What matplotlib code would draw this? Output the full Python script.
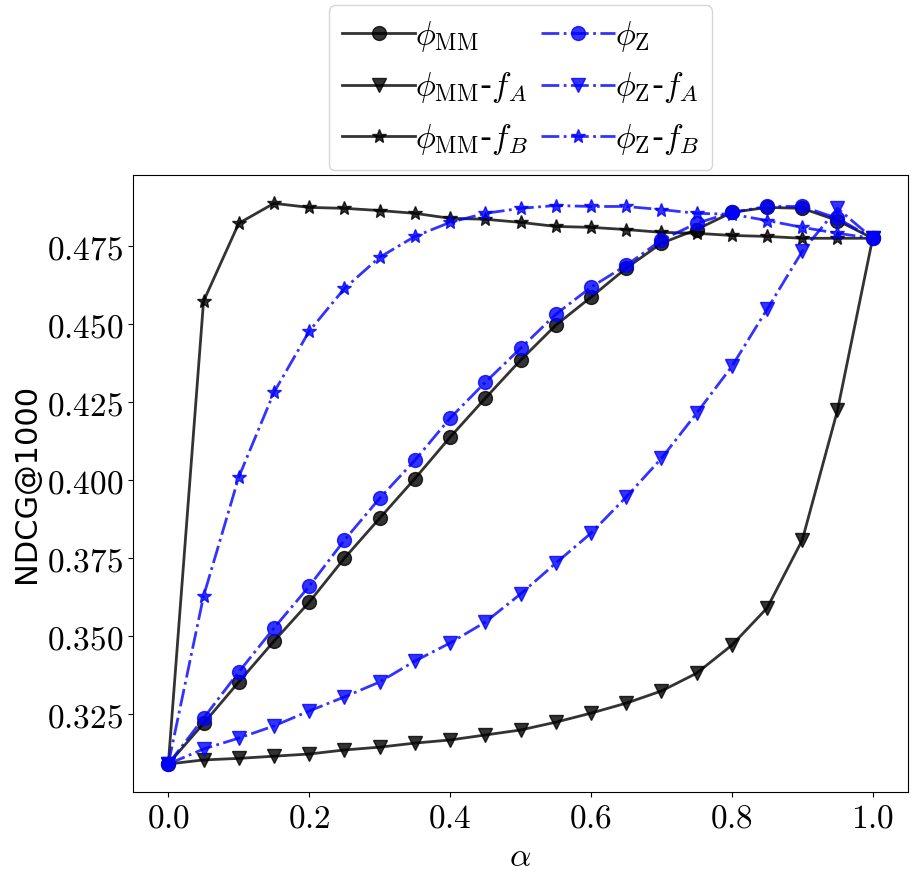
import matplotlib
matplotlib.use("Agg")
import matplotlib.pyplot as plt
from matplotlib.ticker import FuncFormatter

plt.rcParams['mathtext.fontset'] = 'cm'

alpha = [0.0, 0.05, 0.10, 0.15, 0.20, 0.25, 0.30, 0.35, 0.40, 0.45, 0.50,
         0.55, 0.60, 0.65, 0.70, 0.75, 0.80, 0.85, 0.90, 0.95, 1.0]

# NDCG@1000 per alpha
phi_mm = [0.309, 0.322, 0.3353, 0.3484, 0.3609, 0.375, 0.3878, 0.4005, 0.4138, 0.4263, 0.4385,
          0.4497, 0.4587, 0.468, 0.476, 0.4804, 0.4859, 0.4875, 0.4872, 0.4833, 0.4776]
phi_mm_fa = [0.309, 0.3103, 0.3108, 0.3115, 0.3122, 0.3135, 0.3144, 0.3157, 0.3167, 0.3183, 0.3199,
             0.3224, 0.3253, 0.3285, 0.3324, 0.3381, 0.3471, 0.359, 0.3808, 0.4224, 0.4776]
phi_mm_fb = [0.309, 0.4574, 0.4824, 0.4888, 0.4875, 0.4872, 0.4865, 0.4856, 0.484, 0.4837, 0.4827,
             0.4814, 0.4811, 0.4804, 0.4795, 0.4792, 0.4785, 0.4782, 0.4776, 0.4776, 0.4776]
phi_z = [0.309, 0.3237, 0.3385, 0.3526, 0.366, 0.3808, 0.3942, 0.4064, 0.4199, 0.4314, 0.4423,
         0.4532, 0.4619, 0.4689, 0.477, 0.4824, 0.4859, 0.4878, 0.4878, 0.484, 0.4776]
phi_z_fa = [0.309, 0.3138, 0.3173, 0.3212, 0.326, 0.3305, 0.3353, 0.342, 0.3478, 0.3545, 0.3635,
            0.3734, 0.383, 0.3946, 0.407, 0.4215, 0.4365, 0.4548, 0.4734, 0.4872, 0.4776]
phi_z_fb = [0.309, 0.3628, 0.401, 0.4282, 0.4478, 0.4615, 0.4715, 0.4782, 0.4827, 0.4856, 0.4872,
            0.4881, 0.4878, 0.4878, 0.4868, 0.4856, 0.4853, 0.4833, 0.4811, 0.4792, 0.4776]

fig = plt.figure(figsize=(9.18, 8.81), dpi=100)
ax = fig.add_axes([0.145, 0.101, 0.844, 0.7])

kw = dict(linewidth=2, markersize=10, alpha=0.8)
ax.plot(alpha, phi_mm, 'k-', marker='o', label=r'$\phi_{\mathrm{MM}}$', **kw)
ax.plot(alpha, phi_mm_fa, 'k-', marker='v', label=r'$\phi_{\mathrm{MM}}$-$f_A$', **kw)
ax.plot(alpha, phi_mm_fb, 'k-', marker='*', label=r'$\phi_{\mathrm{MM}}$-$f_B$', **kw)
ax.plot(alpha, phi_z, 'b-.', marker='o', label=r'$\phi_{\mathrm{Z}}$', **kw)
ax.plot(alpha, phi_z_fa, 'b-.', marker='v', label=r'$\phi_{\mathrm{Z}}$-$f_A$', **kw)
ax.plot(alpha, phi_z_fb, 'b-.', marker='*', label=r'$\phi_{\mathrm{Z}}$-$f_B$', **kw)

ax.set_xticks([0.0, 0.2, 0.4, 0.6, 0.8, 1.0])
ax.set_yticks([0.325, 0.350, 0.375, 0.400, 0.425, 0.450, 0.475])
ax.xaxis.set_major_formatter(FuncFormatter(lambda v, p: r'$%.1f$' % v))
ax.yaxis.set_major_formatter(FuncFormatter(lambda v, p: r'$%.3f$' % v))
ax.tick_params(labelsize=24)

ax.set_xlabel(r'$\alpha$', fontsize=24)
ax.set_ylabel('NDCG@1000', fontsize=22)

ax.legend(loc='lower center', bbox_to_anchor=(0.5, 1.0), ncol=2, fontsize=24,
          handlelength=2.2, columnspacing=0.4, handletextpad=0.0, labelspacing=0.5,
          borderaxespad=0.15)

fig.savefig('out.png', dpi=100)
